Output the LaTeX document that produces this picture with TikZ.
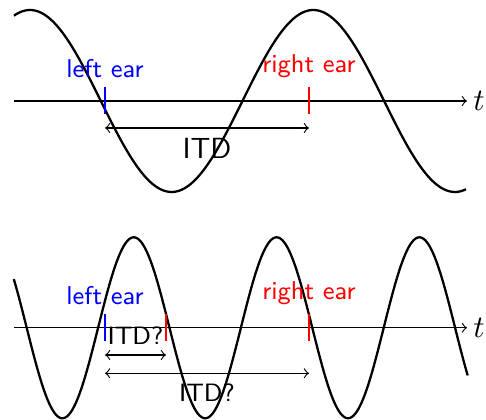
\documentclass[tikz,border=0pt]{standalone}
\usepackage{fontspec}
\begin{document}
\begin{tikzpicture}[x=0.35pt,y=-0.35pt,
  curve/.style={line width=0.8pt, black},
  axisline/.style={line width=0.4pt, ->},
  dblarrow/.style={line width=0.4pt, <->},
  bluetick/.style={line width=0.8pt, blue},
  redtick/.style={line width=0.8pt, red},
  earlbl/.style={font=\sffamily\fontsize{9}{11}\selectfont},
  itdbig/.style={font=\sffamily\fontsize{10.2}{12}\selectfont},
  itdsmall/.style={font=\sffamily\fontsize{8.8}{10}\selectfont},
  tlbl/.style={font=\fontsize{10.5}{12}\selectfont, inner sep=2pt}]
\useasboundingbox (0,0) rectangle (486,420);

% ---------- top panel ----------
\coordinate (X0) at (14,101);
\coordinate (X1) at (467,101);
\draw[axisline] (X0) -- (X1) node[right, tlbl] (t1) {$t$};
\draw[curve] plot[domain=14:466, samples=200, smooth] (\x, {101-91*cos((\x-30)/283.3*360)});

\coordinate (L1t) at (105,87.5);
\coordinate (L1b) at (105,114.5);
\coordinate (R1t) at (309,87.5);
\coordinate (R1b) at (309,114.5);
\draw[bluetick] (L1t) -- (L1b);
\draw[redtick] (R1t) -- (R1b);
\node[above, blue, earlbl] (left1) at (L1t) {left ear};
\node[above, red, earlbl] (right1) at (R1t) {right ear};

\coordinate (A1) at (105,128);
\coordinate (A2) at (309,128);
\draw[dblarrow] (A1) -- (A2) node[midway, below, itdbig] (itd1) {ITD};

% ---------- bottom panel ----------
\coordinate (Y0) at (14,327.8);
\coordinate (Y1) at (467,327.8);
\draw[axisline] (Y0) -- (Y1) node[right, tlbl] (t2) {$t$};
\draw[curve] plot[domain=13.8:467.7, samples=300, smooth] (\x, {327.8-90.5*cos((\x-133.8)/142.8*360)});

\coordinate (L2t) at (105,314.5);
\coordinate (L2b) at (105,341.5);
\coordinate (M2t) at (166,314.5);
\coordinate (M2b) at (166,341.5);
\coordinate (R2t) at (309,314.5);
\coordinate (R2b) at (309,341.5);
\draw[bluetick] (L2t) -- (L2b);
\draw[redtick] (M2t) -- (M2b);
\draw[redtick] (R2t) -- (R2b);
\node[above, blue, earlbl] (left2) at (L2t) {left ear};
\node[above, red, earlbl] (right2) at (R2t) {right ear};

\coordinate (B1) at (105,355);
\coordinate (B2) at (166,355);
\draw[dblarrow] (B1) -- (B2) node[midway, above, itdsmall] (itd2) {ITD?};

\coordinate (C1) at (105,373.3);
\coordinate (C2) at (309,373.3);
\draw[dblarrow] (C1) -- (C2) node[midway, below, itdsmall] (itd3) {ITD?};
\end{tikzpicture}
\end{document}
